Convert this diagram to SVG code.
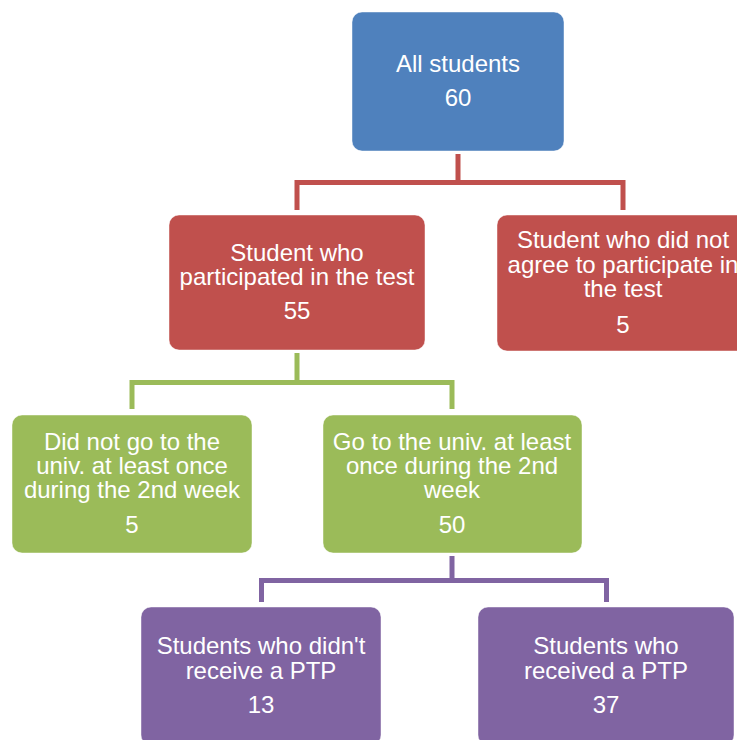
<svg xmlns="http://www.w3.org/2000/svg" width="737" height="740" viewBox="0 0 737 740">
<style>
  .node rect { stroke: #ffffff; stroke-opacity: 0.45; stroke-width: 1; }
  .blue rect { fill: #4F81BD; }
  .red rect { fill: #C0504D; }
  .green rect { fill: #9BBB59; }
  .purple rect { fill: #8064A2; }
  .node text { fill: #ffffff; font-family: "Liberation Sans", Arial, sans-serif; font-size: 24px; text-anchor: middle; }
  .conn { fill: none; stroke-width: 5; stroke-linejoin: miter; }
  .c-red { stroke: #C0504D; }
  .c-green { stroke: #9BBB59; }
  .c-purple { stroke: #8064A2; }
</style>
<rect width="737" height="740" fill="#ffffff"/>
<g id="connectors">
  <path class="conn c-red" d="M458,154 V182.5 M297,210 V182.5 H623 V210"/>
  <path class="conn c-green" d="M297,353 V382.5 M132,409 V382.5 H452 V409"/>
  <path class="conn c-purple" d="M452,556 V580.5 M261.5,602 V580.5 H606.5 V602"/>
</g>
<g id="all-students" class="node blue">
  <rect x="352" y="12" width="212" height="139" rx="10"/>
  <text x="458" y="72">All students</text>
  <text x="458" y="106">60</text>
</g>
<g id="participated" class="node red">
  <rect x="169" y="215" width="256" height="135" rx="10"/>
  <text x="297" y="261">Student who</text>
  <text x="297" y="285">participated in the test</text>
  <text x="297" y="319">55</text>
</g>
<g id="not-agree" class="node red">
  <rect x="497" y="215" width="252" height="136" rx="10"/>
  <text x="623" y="248">Student who did not</text>
  <text x="623" y="273">agree to participate in</text>
  <text x="623" y="297">the test</text>
  <text x="623" y="333">5</text>
</g>
<g id="not-go" class="node green">
  <rect x="12" y="415" width="240" height="138" rx="10"/>
  <text x="132" y="450">Did not go to the</text>
  <text x="132" y="474">univ. at least once</text>
  <text x="132" y="498">during the 2nd week</text>
  <text x="132" y="533">5</text>
</g>
<g id="go" class="node green">
  <rect x="323" y="415" width="259" height="138" rx="10"/>
  <text x="452" y="450">Go to the univ. at least</text>
  <text x="452" y="474">once during the 2nd</text>
  <text x="452" y="498">week</text>
  <text x="452" y="533">50</text>
</g>
<g id="no-ptp" class="node purple">
  <rect x="141" y="607" width="240" height="138" rx="10"/>
  <text x="261" y="654">Students who didn't</text>
  <text x="261" y="679">receive a PTP</text>
  <text x="261" y="713">13</text>
</g>
<g id="ptp" class="node purple">
  <rect x="478" y="607" width="256" height="138" rx="10"/>
  <text x="606" y="654">Students who</text>
  <text x="606" y="679">received a PTP</text>
  <text x="606" y="713">37</text>
</g>
</svg>
